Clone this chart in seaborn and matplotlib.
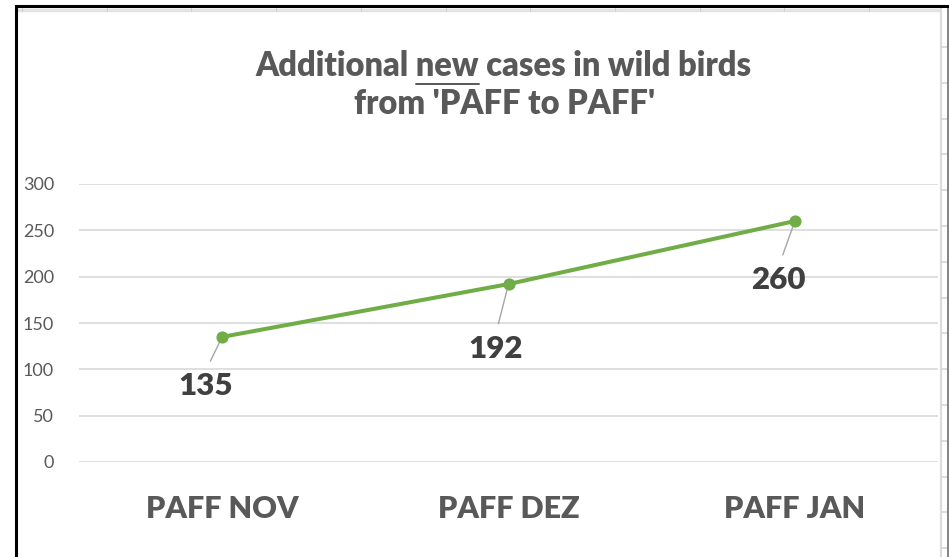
import numpy as np
import pandas as pd
import matplotlib
matplotlib.use("Agg")
import matplotlib.pyplot as plt
from matplotlib.lines import Line2D
import seaborn as sns

months = ["PAFF NOV", "PAFF DEZ", "PAFF JAN"]
cases = [135, 192, 260]
y_ticks = [0, 50, 100, 150, 200, 250, 300]
title_1 = "Additional new cases in wild birds"
title_2 = "from 'PAFF to PAFF'"

# label offsets from the point, in pixels (dx, dy downwards)
label_offsets = [(-17, 49), (-13, 65), (-16, 59)]

sns.set_style("white")
plt.rcParams["font.family"] = ["Lato", "DejaVu Sans"]

W, H = 949, 557
fig = plt.figure(figsize=(W / 100, H / 100), dpi=100)


def fx(x):
    return x / W


def fy(y):
    return 1 - y / H


# plot area in pixels: x 79..938, y 184 (300) .. 462 (0)
ax = fig.add_axes([fx(79), fy(462), (938 - 79) / W, (462 - 184) / H])

df = pd.DataFrame({"month": months, "cases": cases})
sns.lineplot(data=df, x="month", y="cases", ax=ax, sort=False, color="#70AD47",
             linewidth=2.9, marker="o", markersize=8, markeredgecolor="#70AD47",
             zorder=5)

ax.set_xlim(-0.5, 2.5)
ax.set_ylim(0, 300)
ax.set_yticks(y_ticks)
ax.yaxis.grid(True, color="#D9D9D9", linewidth=1.2)
ax.xaxis.grid(False)
for s in ax.spines.values():
    s.set_visible(False)
ax.set_xlabel("")
ax.set_ylabel("")
ax.tick_params(axis="y", length=0, pad=18, labelsize=13, labelcolor="#595959")
ax.tick_params(axis="x", length=0, pad=24, labelsize=22, labelcolor="#595959")
for t in ax.get_xticklabels():
    t.set_fontweight("heavy")

for i, (v, (dx, dy)) in enumerate(zip(cases, label_offsets)):
    ax.annotate(str(v), xy=(i, v), xytext=(dx, -dy), textcoords="offset pixels",
                ha="center", va="center", fontsize=22.5, fontweight="heavy",
                color="#404040",
                arrowprops=dict(arrowstyle="-", color="#A6A6A6", lw=1.0,
                                shrinkA=6, shrinkB=0, relpos=(0.5, 1.0)))

# title, with "new" underlined
tsize = 23.5
t1 = fig.text(fx(503.5), fy(66), title_1, ha="center", va="center", fontsize=tsize,
              fontweight="heavy", color="#595959")
fig.text(fx(505), fy(104), title_2, ha="center", va="center", fontsize=tsize,
         fontweight="heavy", color="#595959")
fig.canvas.draw()
r = fig.canvas.get_renderer()
bb = t1.get_window_extent(r)
tmp_a = fig.text(0, 0, "Additional new", fontsize=tsize, fontweight="heavy")
tmp_b = fig.text(0, 0, "new", fontsize=tsize, fontweight="heavy")
wa = tmp_a.get_window_extent(r).width
wb = tmp_b.get_window_extent(r).width
tmp_a.remove()
tmp_b.remove()
x0 = bb.x0 + wa - wb
fig.add_artist(Line2D([x0 / W, (x0 + wb) / W], [fy(83.5), fy(83.5)],
                      transform=fig.transFigure, color="#595959", lw=1.4))

# worksheet bits around the chart
fig.add_artist(Line2D([fx(18), fx(940)], [fy(9.5), fy(9.5)], transform=fig.transFigure,
                      color="#E4E4E4", lw=2.5))
for xc in np.arange(22, 940, 84.7):
    fig.add_artist(Line2D([fx(xc), fx(xc)], [fy(8), fy(11)], transform=fig.transFigure,
                          color="#D0D0D0", lw=0.8))
fig.add_artist(Line2D([fx(940.5), fx(940.5)], [fy(8), fy(557)], transform=fig.transFigure,
                      color="#DCDCDC", lw=1.5))
for yr in np.arange(47, 557, 35.8):
    fig.add_artist(Line2D([fx(941), fx(947)], [fy(yr), fy(yr)], transform=fig.transFigure,
                          color="#D6D6D6", lw=1.2))
fig.add_artist(Line2D([fx(947.5), fx(947.5)], [fy(7), fy(557)], transform=fig.transFigure,
                      color="#6E6E6E", lw=1.2))

# black chart border (left and top)
fig.add_artist(Line2D([fx(16), fx(16), fx(949)], [fy(557), fy(6), fy(6)],
                      transform=fig.transFigure, color="black", lw=2.2,
                      solid_joinstyle="miter"))

fig.savefig("out.png", dpi=100)
